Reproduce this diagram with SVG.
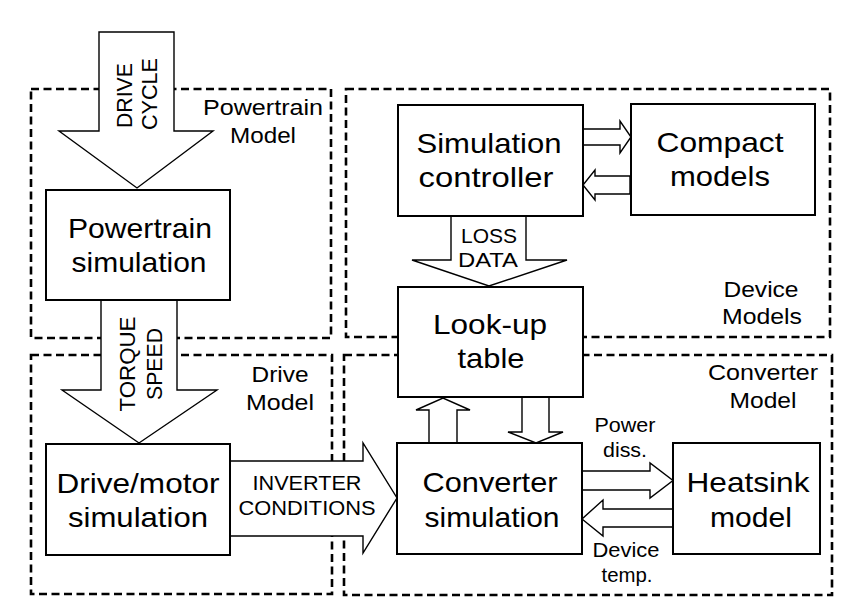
<svg xmlns="http://www.w3.org/2000/svg" width="851" height="606" viewBox="0 0 851 606">
<style>
.bg{fill:#fff}
.grp{fill:none;stroke:#000;stroke-width:2.6;stroke-dasharray:8 4.5}
.box{fill:#fff;stroke:#000;stroke-width:2}
.arr{fill:#fff;stroke:#000;stroke-width:1.4;stroke-linejoin:miter}
text{font-family:"Liberation Sans",Arial,Helvetica,sans-serif;fill:#000;text-anchor:middle}
.n{font-size:28px}
.l{font-size:22px}
.s{font-size:20px}
</style>
<rect class="bg" x="0" y="0" width="851" height="606"/>
<g id="groups">
<g id="powertrain-model"><rect class="grp" x="31" y="89" width="300" height="249"/>
<text class="l" x="263" y="115" textLength="120" lengthAdjust="spacingAndGlyphs">Powertrain</text>
<text class="l" x="263" y="143" textLength="66" lengthAdjust="spacingAndGlyphs">Model</text></g>
<g id="drive-model"><rect class="grp" x="31" y="355" width="301" height="239"/>
<text class="l" x="280" y="382" textLength="57" lengthAdjust="spacingAndGlyphs">Drive</text>
<text class="l" x="280" y="410" textLength="68" lengthAdjust="spacingAndGlyphs">Model</text></g>
<g id="device-models"><rect class="grp" x="346" y="89" width="484" height="248"/>
<text class="l" x="761" y="297" textLength="75" lengthAdjust="spacingAndGlyphs">Device</text>
<text class="l" x="762" y="324" textLength="80" lengthAdjust="spacingAndGlyphs">Models</text></g>
<g id="converter-model"><rect class="grp" x="344" y="355" width="488" height="240"/>
<text class="l" x="763" y="380" textLength="110" lengthAdjust="spacingAndGlyphs">Converter</text>
<text class="l" x="763" y="408" textLength="67" lengthAdjust="spacingAndGlyphs">Model</text></g>
</g>
<g id="connectors">
<g id="drive-cycle"><polygon class="arr" points="99,32 174,32 174,131 213,131 137,188 59,131 99,131"/>
<text class="l" transform="translate(132,95.5) rotate(-90)" textLength="65" lengthAdjust="spacingAndGlyphs">DRIVE</text>
<text class="l" transform="translate(157,94) rotate(-90)" textLength="72" lengthAdjust="spacingAndGlyphs">CYCLE</text></g>
<g id="torque-speed"><polygon class="arr" points="101,300 177,300 177,390 217,390 139,443 62,390 101,390"/>
<text class="l" transform="translate(135,364) rotate(-90)" textLength="95" lengthAdjust="spacingAndGlyphs">TORQUE</text>
<text class="l" transform="translate(162,364) rotate(-90)" textLength="72" lengthAdjust="spacingAndGlyphs">SPEED</text></g>
<g id="inverter-conditions"><polygon class="arr" points="230,461 363,461 363,443 397,498 363,553 363,536 230,536"/>
<text class="s" x="307" y="490" textLength="109" lengthAdjust="spacingAndGlyphs">INVERTER</text>
<text class="s" x="307" y="515" textLength="137" lengthAdjust="spacingAndGlyphs">CONDITIONS</text></g>
<g id="loss-data"><polygon class="arr" points="451,216 526,216 526,260 567,260 489,286 412,260 451,260"/>
<text class="s" x="489" y="243" textLength="56" lengthAdjust="spacingAndGlyphs">LOSS</text>
<text class="s" x="488" y="267" textLength="60" lengthAdjust="spacingAndGlyphs">DATA</text></g>
<polygon id="ctrl-to-compact" class="arr" points="583,129 620,129 620,121 631,137 620,153 620,145 583,145"/>
<polygon id="compact-to-ctrl" class="arr" points="630,176 595,176 595,170 583,185 595,200 595,194 630,194"/>
<polygon id="conv-to-lut" class="arr" points="429,443 429,410 416,410 443,398 470,410 457,410 457,443"/>
<polygon id="lut-to-conv" class="arr" points="522,397 522,432 508,432 536,443 563,432 549,432 549,397"/>
<g id="power-diss"><polygon class="arr" points="582,471 650,471 650,463 673,480.5 650,498 650,490 582,490"/>
<text class="s" x="625" y="432" textLength="61" lengthAdjust="spacingAndGlyphs">Power</text>
<text class="s" x="625" y="457" textLength="44" lengthAdjust="spacingAndGlyphs">diss.</text></g>
<g id="device-temp"><polygon class="arr" points="673,509 603,509 603,500 582,519 603,536 603,527 673,527"/>
<text class="s" x="626" y="557" textLength="67" lengthAdjust="spacingAndGlyphs">Device</text>
<text class="s" x="627" y="582" textLength="51" lengthAdjust="spacingAndGlyphs">temp.</text></g>
</g>
<g id="powertrain-simulation"><rect class="box" x="46" y="190" width="184" height="110"/>
<text class="n" x="140" y="238" textLength="144" lengthAdjust="spacingAndGlyphs">Powertrain</text>
<text class="n" x="139" y="272" textLength="135" lengthAdjust="spacingAndGlyphs">simulation</text></g>
<g id="drive-motor-simulation"><rect class="box" x="46" y="444" width="184" height="111"/>
<text class="n" x="138" y="493" textLength="163" lengthAdjust="spacingAndGlyphs">Drive/motor</text>
<text class="n" x="138" y="527" textLength="140" lengthAdjust="spacingAndGlyphs">simulation</text></g>
<g id="simulation-controller"><rect class="box" x="398" y="105" width="185" height="111"/>
<text class="n" x="489" y="153" textLength="145" lengthAdjust="spacingAndGlyphs">Simulation</text>
<text class="n" x="486" y="187" textLength="135" lengthAdjust="spacingAndGlyphs">controller</text></g>
<g id="compact-models"><rect class="box" x="631" y="104" width="184" height="111"/>
<text class="n" x="720" y="152" textLength="127" lengthAdjust="spacingAndGlyphs">Compact</text>
<text class="n" x="720" y="186" textLength="100" lengthAdjust="spacingAndGlyphs">models</text></g>
<g id="look-up-table"><rect class="box" x="398" y="287" width="185" height="110"/>
<text class="n" x="490" y="334" textLength="114" lengthAdjust="spacingAndGlyphs">Look-up</text>
<text class="n" x="491" y="368" textLength="67" lengthAdjust="spacingAndGlyphs">table</text></g>
<g id="converter-simulation"><rect class="box" x="397" y="443" width="185" height="111"/>
<text class="n" x="490" y="492" textLength="135" lengthAdjust="spacingAndGlyphs">Converter</text>
<text class="n" x="492" y="527" textLength="135" lengthAdjust="spacingAndGlyphs">simulation</text></g>
<g id="heatsink-model"><rect class="box" x="673" y="443" width="147" height="111"/>
<text class="n" x="748" y="492" textLength="123" lengthAdjust="spacingAndGlyphs">Heatsink</text>
<text class="n" x="751" y="527" textLength="82" lengthAdjust="spacingAndGlyphs">model</text></g>
</svg>
